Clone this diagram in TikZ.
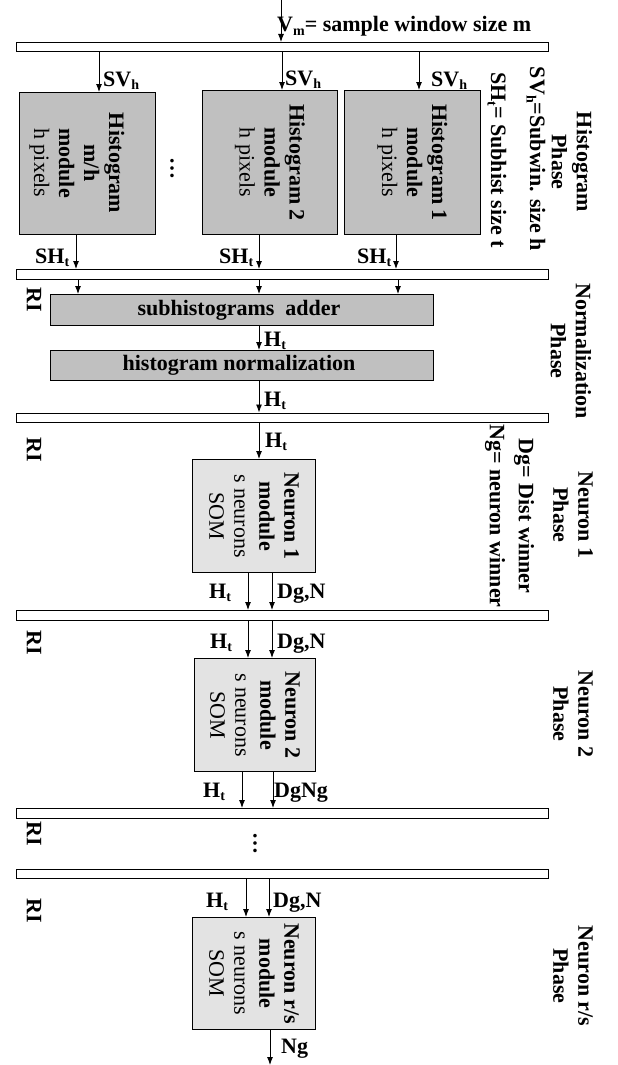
\documentclass[tikz,border=0pt]{standalone}
\usepackage{fontspec}
\setmainfont{Liberation Serif}
\usetikzlibrary{arrows.meta}
\definecolor{histgray}{RGB}{192,192,192}
\definecolor{neurgray}{RGB}{227,227,227}
\newcommand{\lsub}[1]{\raisebox{-3.5pt}{\fontsize{14}{14}\selectfont #1}}
\begin{document}
\begin{tikzpicture}[x=1pt,y=-1pt,
  every node/.style={font=\fontsize{22}{25}\selectfont\bfseries, inner sep=0pt},
  bar/.style={draw, line width=0.9pt, fill=white, anchor=north west, minimum width=532pt, minimum height=9.5pt},
  hbox/.style={draw, line width=1pt, fill=histgray, anchor=north west},
  nbox/.style={draw, line width=1pt, fill=neurgray, anchor=north west, minimum width=123pt, minimum height=113pt},
  rot/.style={rotate=-90, align=center},
  lbl/.style={anchor=base west},
  arr/.style={-{Latex[length=8pt,width=6pt]}, line width=0.9pt},
]
\useasboundingbox (0,0) rectangle (618,1065);
% bars
\node[bar] (bar1) at (16,42) {};
\node[bar] (bar2) at (16,269) {};
\node[bar] (bar3) at (16,412.5) {};
\node[bar] (bar4) at (16,610) {};
\node[bar] (bar5) at (16,808) {};
\node[bar] (bar6) at (16,868.5) {};
% histogram modules
\node[hbox, minimum width=136pt, minimum height=142pt] (hm) at (19,92) {};
\node[hbox, minimum width=135pt, minimum height=144pt] (h2) at (202,90) {};
\node[hbox, minimum width=136pt, minimum height=144pt] (h1) at (344,90) {};
\node[rot] (hmt) at (77,163) {Histogram\\m/h\\module\\\mdseries h pixels};
\node[rot] (h2t) at (h2.center) {Histogram 2\\module\\\mdseries h pixels};
\node[rot] (h1t) at (h1.center) {Histogram 1\\module\\\mdseries h pixels};
\node[rot] (hdots) at (172,168) {\ldots};
% normalization
\node[hbox, minimum width=383pt, minimum height=31pt] (add) at (50,294) {};
\node (addt) at ([xshift=-3pt]add.center) {subhistograms\ \ adder};
\node[hbox, minimum width=383pt, minimum height=30pt] (norm) at (50,350) {};
\node (normt) at ([xshift=-3pt]norm.center) {histogram normalization};
% neuron modules
\node[nbox] (n1) at (192,459) {};
\node[nbox, minimum width=121pt] (n2) at (194,658) {};
\node[nbox, minimum height=112pt] (nr) at (192,917) {};
\node[rot] (n1t) at (n1.center) {Neuron 1\\module\\\mdseries s neurons\\\mdseries SOM};
\node[rot] (n2t) at (n2.center) {Neuron 2\\module\\\mdseries s neurons\\\mdseries SOM};
\node[rot] (nrt) at (nr.center) {Neuron r/s\\module\\\mdseries s neurons\\\mdseries SOM};
\node[rot] (dots2) at (255,843) {\ldots};
% phase labels and definitions
\node[rot] (ph1) at (572,162) {Histogram\\Phase};
\node[rot] (svdef) at (536,159) {SV\lsub{h}=Subwin. size h};
\node[rot] (shdef) at (497,160) {SH\lsub{t}= Subhist size t};
\node[rot] (ph2) at (571,351) {Normalization\\Phase};
\node[rot] (ph3) at (573,515) {Neuron 1\\Phase};
\node[rot] (dgdef) at (524,516) {Dg= Dist winner};
\node[rot] (ngdef) at (495,516) {Ng= neuron winner};
\node[rot] (ph4) at (573,714) {Neuron 2\\Phase};
\node[rot] (ph5) at (573,976) {Neuron r/s\\Phase};
% RI
\node[rot] (ri1) at (34,300) {RI};
\node[rot] (ri2) at (34,450) {RI};
\node[rot] (ri3) at (34,643) {RI};
\node[rot] (ri4) at (34,834) {RI};
\node[rot] (ri5) at (34,911) {RI};
% labels
\node[lbl] (vm) at (277,32) {V\lsub{m}= sample window size m};
\node[lbl] (sv1) at (103,86) {SV\lsub{h}};
\node[lbl] (sv2) at (285,85) {SV\lsub{h}};
\node[lbl] (sv3) at (431,86) {SV\lsub{h}};
\node[lbl] (sh1) at (35,263) {SH\lsub{t}};
\node[lbl] (sh2) at (219,263) {SH\lsub{t}};
\node[lbl] (sh3) at (357,263) {SH\lsub{t}};
\node[lbl] (ha) at (264,346) {H\lsub{t}};
\node[lbl] (hb) at (264,406) {H\lsub{t}};
\node[lbl] (hc) at (265,447) {H\lsub{t}};
\node[lbl] (hd) at (209,598) {H\lsub{t}};
\node[lbl] (dga) at (277,598) {Dg,N};
\node[lbl] (he) at (210,648) {H\lsub{t}};
\node[lbl] (dgb) at (277,648) {Dg,N};
\node[lbl] (hf) at (203,797) {H\lsub{t}};
\node[lbl] (dgc) at (274,797) {DgNg};
\node[lbl] (hg) at (206,907) {H\lsub{t}};
\node[lbl] (dgd) at (273,907) {Dg,N};
\node[lbl] (ngl) at (281,1053) {Ng};
% connectors
\coordinate (in0) at (281,0);
\coordinate (out) at (270,1065);
\draw[arr] (in0) -- (in0 |- bar1.north);
\draw[arr] (bar1.south -| 99,0) -- (hm.north -| 99,0);
\draw[arr] (bar1.south -| 282,0) -- (h2.north -| 282,0);
\draw[arr] (bar1.south -| 419,0) -- (h1.north -| 419,0);
\draw[arr] (hm.south -| 76,0) -- (bar2.north -| 76,0);
\draw[arr] (h2.south -| 259,0) -- (bar2.north -| 259,0);
\draw[arr] (h1.south -| 396,0) -- (bar2.north -| 396,0);
\draw[arr] (bar2.south -| 78,0) -- (add.north -| 78,0);
\draw[arr] (bar2.south -| 259,0) -- (add.north -| 259,0);
\draw[arr] (bar2.south -| 398,0) -- (add.north -| 398,0);
\draw[arr] (add.south -| 259,0) -- (norm.north -| 259,0);
\draw[arr] (norm.south -| 259,0) -- (bar3.north -| 259,0);
\draw[arr] (bar3.south -| 259,0) -- (n1.north -| 259,0);
\draw[arr] (n1.south -| 248,0) -- (bar4.north -| 248,0);
\draw[arr] (n1.south -| 272,0) -- (bar4.north -| 272,0);
\draw[arr] (bar4.south -| 248,0) -- (n2.north -| 248,0);
\draw[arr] (bar4.south -| 272,0) -- (n2.north -| 272,0);
\draw[arr] (n2.south -| 242,0) -- (bar5.north -| 242,0);
\draw[arr] (n2.south -| 273,0) -- (bar5.north -| 273,0);
\draw[arr] (bar6.south -| 246,0) -- (nr.north -| 246,0);
\draw[arr] (bar6.south -| 269,0) -- (nr.north -| 269,0);
\draw[arr] (nr.south -| out) -- (out);
\end{tikzpicture}
\end{document}
